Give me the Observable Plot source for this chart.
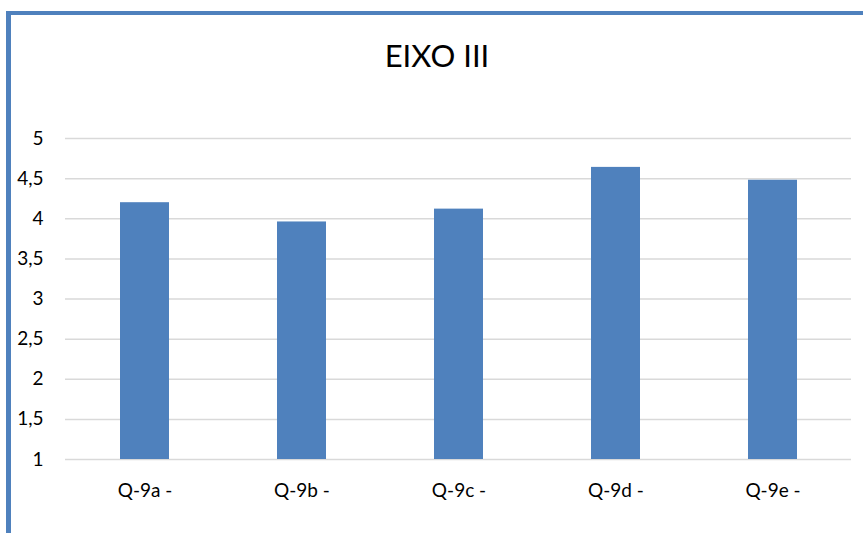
<!DOCTYPE html>
<html>
<head>
<meta charset="utf-8">
<script src="https://cdn.jsdelivr.net/npm/d3@7"></script>
<script src="https://cdn.jsdelivr.net/npm/@observablehq/plot@0.6"></script>
<style>
  html, body { margin: 0; padding: 0; background: #fff; }
  body { width: 863px; height: 533px; overflow: hidden; position: relative; font-family: Lato, "Open Sans", sans-serif; }
  #frame { position: absolute; left: 6px; top: 11px; width: 852px; height: 522px; border-left: 5px solid #4f81bd; border-top: 4px solid #4f81bd; }
  #title { height: 80px; box-sizing: border-box; padding-top: 25px; text-align: center; font-size: 31px; line-height: 30px; color: #000; }
</style>
</head>
<body>
<div id="frame">
  <div id="title">EIXO III</div>
  <div id="chart"></div>
</div>
<script>
const categories = ["Q-9a -", "Q-9b -", "Q-9c -", "Q-9d -", "Q-9e -"];
const values = [4.20, 3.96, 4.12, 4.64, 4.48];
const yTicks = [1, 1.5, 2, 2.5, 3, 3.5, 4, 4.5, 5];

const data = categories.map((c, i) => ({category: c, value: values[i]}));
const fmt = v => String(v).replace(".", ",");

const chart = Plot.plot({
  width: 852,
  height: 438,
  marginLeft: 54,
  marginRight: 12,
  marginTop: 43,
  marginBottom: 74,
  style: {fontFamily: "Lato, 'Open Sans', sans-serif", fontSize: "19px", color: "#000", background: "transparent"},
  x: {domain: categories, paddingInner: 0.688, paddingOuter: 0.344, label: null, tickSize: 0, tickPadding: 24},
  y: {domain: [1, 5], ticks: yTicks, tickFormat: fmt, label: null, tickSize: 0, tickPadding: 22},
  marks: [
    Plot.ruleY(yTicks, {stroke: "#d9d9d9", strokeWidth: 1.5}),
    Plot.barY(data, {x: "category", y1: 1, y2: "value", fill: "#4f81bd"}),
    Plot.axisX({tickSize: 0, tickPadding: 24, fontSize: 19}),
    Plot.axisY({ticks: yTicks, tickFormat: fmt, tickSize: 0, tickPadding: 22, fontSize: 19})
  ]
});
document.getElementById("chart").appendChild(chart);
</script>
</body>
</html>
